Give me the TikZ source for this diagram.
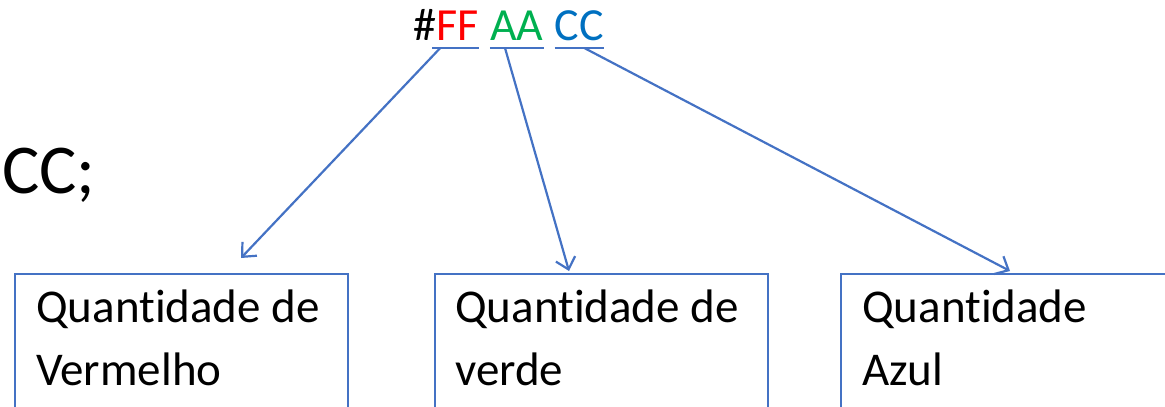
\documentclass[tikz,border=0pt]{standalone}
\usepackage{fontspec}
\setmainfont{Carlito}[Ligatures={NoCommon}]
\usetikzlibrary{arrows.meta,calc}
\definecolor{lineblue}{HTML}{4472C4}
\definecolor{hexred}{HTML}{FF0000}
\definecolor{hexgreen}{HTML}{00B050}
\definecolor{hexblue}{HTML}{0070C0}
\tikzset{
  hexpart/.style={inner sep=0pt, anchor=base west, font=\fontsize{46}{55}\selectfont},
  boxlabel/.style={inner sep=0pt, anchor=base west, align=left, font=\fontsize{47}{63}\selectfont},
  valuebox/.style={draw=lineblue, line width=2.2pt, anchor=north west, minimum height=170pt, inner sep=0pt},
  uline/.style={draw=lineblue, line width=2.2pt},
  pointer/.style={draw=lineblue, line width=2.2pt, -{Straight Barb[length=11pt,width=20pt,line width=2.2pt]}}
}
\begin{document}
\begin{tikzpicture}[x=1pt,y=-1pt]
\useasboundingbox (0,0) rectangle (1165,407);
\clip (0,0) rectangle (1165,407);
% header
\node[hexpart] (hash) at (413,40) {\#};
\node[hexpart, text=hexred] (ff) at (hash.base east) {FF};
\node[hexpart, text=hexgreen] (aa) at ($(ff.base east)+(11,0)$) {AA};
\node[hexpart, text=hexblue] (cc) at ($(aa.base east)+(11,0)$) {CC};
\coordinate (ffl) at ($(ff.base west)+(-4,8)$);
\coordinate (ffr) at ($(ff.base east)+(0,8)$);
\coordinate (aal) at ($(aa.base west)+(0,8)$);
\coordinate (aar) at ($(aa.base east)+(0,8)$);
\coordinate (ccl) at ($(cc.base west)+(0,8)$);
\coordinate (ccr) at ($(cc.base east)+(0,8)$);
\draw[uline] (ffl) -- (ffr);
\draw[uline] (aal) -- (aar);
\draw[uline] (ccl) -- (ccr);
% left clipped text
\node[inner sep=0pt, anchor=base west, font=\fontsize{70}{84}\selectfont] (cctext) at (2,193) {CC;};
% boxes
\node[valuebox, minimum width=333pt] (b1) at (14,273) {};
\node[valuebox, minimum width=333pt] (b2) at (434,273) {};
\node[valuebox, minimum width=360pt] (b3) at (840,273) {};
\node[boxlabel] (t1) at (36,385) {Quantidade de\\Vermelho};
\node[boxlabel] (t2) at (455,385) {Quantidade de\\verde};
\node[boxlabel] (t3) at (862,385) {Quantidade\\Azul};
% arrow targets
\coordinate (e1) at (241,258);
\coordinate (e2) at (569,271);
\coordinate (e3) at (1010,271);
\coordinate (s1) at ($(ffl)!0.17!(ffr)$);
\coordinate (s2) at ($(aal)!0.28!(aar)$);
\coordinate (s3) at ($(ccl)!0.6!(ccr)$);
\draw[pointer] (s1) -- (e1);
\draw[pointer] (s2) -- (e2);
\draw[pointer] (s3) -- (e3);
\end{tikzpicture}
\end{document}
